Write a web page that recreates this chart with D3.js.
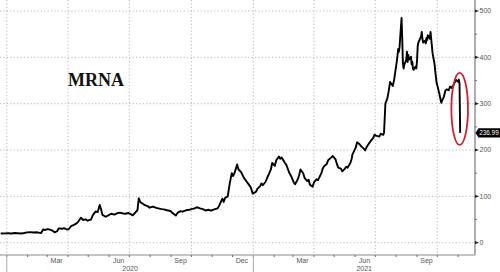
<!DOCTYPE html>
<html><head><meta charset="utf-8">
<script src="https://cdn.jsdelivr.net/npm/d3@7"></script>
<style>body{margin:0;background:#fff}svg{display:block}</style>
</head><body><svg id="c" width="500" height="272"></svg>
<script>
const dates = ["2019-12-23","2019-12-30","2020-01-03","2020-01-08","2020-01-13","2020-01-17","2020-01-22","2020-01-27","2020-01-31","2020-02-05","2020-02-10","2020-02-14","2020-02-19","2020-02-21","2020-02-24","2020-02-27","2020-03-02","2020-03-05","2020-03-09","2020-03-12","2020-03-16","2020-03-18","2020-03-23","2020-03-26","2020-03-30","2020-04-02","2020-04-06","2020-04-09","2020-04-13","2020-04-16","2020-04-20","2020-04-23","2020-04-27","2020-04-30","2020-05-05","2020-05-08","2020-05-12","2020-05-15","2020-05-18","2020-05-20","2020-05-22","2020-05-27","2020-06-01","2020-06-04","2020-06-09","2020-06-12","2020-06-17","2020-06-22","2020-06-25","2020-06-30","2020-07-06","2020-07-09","2020-07-13","2020-07-15","2020-07-17","2020-07-21","2020-07-24","2020-07-28","2020-07-31","2020-08-05","2020-08-10","2020-08-13","2020-08-18","2020-08-21","2020-08-26","2020-08-31","2020-09-03","2020-09-08","2020-09-11","2020-09-15","2020-09-18","2020-09-23","2020-09-28","2020-10-01","2020-10-06","2020-10-09","2020-10-14","2020-10-19","2020-10-22","2020-10-27","2020-10-30","2020-11-04","2020-11-09","2020-11-12","2020-11-16","2020-11-18","2020-11-20","2020-11-24","2020-11-27","2020-11-30","2020-12-02","2020-12-04","2020-12-08","2020-12-10","2020-12-14","2020-12-16","2020-12-18","2020-12-22","2020-12-24","2020-12-28","2020-12-31","2021-01-05","2021-01-07","2021-01-11","2021-01-13","2021-01-15","2021-01-19","2021-01-21","2021-01-25","2021-01-27","2021-01-29","2021-02-02","2021-02-04","2021-02-08","2021-02-10","2021-02-12","2021-02-17","2021-02-19","2021-02-23","2021-02-26","2021-03-02","2021-03-04","2021-03-08","2021-03-10","2021-03-12","2021-03-16","2021-03-18","2021-03-22","2021-03-24","2021-03-26","2021-03-30","2021-04-01","2021-04-05","2021-04-07","2021-04-12","2021-04-14","2021-04-16","2021-04-20","2021-04-22","2021-04-26","2021-04-29","2021-05-03","2021-05-05","2021-05-07","2021-05-11","2021-05-13","2021-05-17","2021-05-19","2021-05-21","2021-05-25","2021-05-27","2021-05-28","2021-06-02","2021-06-04","2021-06-08","2021-06-10","2021-06-14","2021-06-16","2021-06-18","2021-06-22","2021-06-24","2021-06-28","2021-06-30","2021-07-02","2021-07-07","2021-07-09","2021-07-13","2021-07-14","2021-07-16","2021-07-19","2021-07-21","2021-07-23","2021-07-27","2021-07-29","2021-08-02","2021-08-04","2021-08-05","2021-08-06","2021-08-09","2021-08-10","2021-08-11","2021-08-12","2021-08-13","2021-08-16","2021-08-17","2021-08-18","2021-08-19","2021-08-20","2021-08-23","2021-08-24","2021-08-25","2021-08-26","2021-08-27","2021-08-30","2021-08-31","2021-09-01","2021-09-02","2021-09-03","2021-09-07","2021-09-08","2021-09-09","2021-09-10","2021-09-13","2021-09-14","2021-09-15","2021-09-16","2021-09-17","2021-09-20","2021-09-21","2021-09-22","2021-09-23","2021-09-24","2021-09-27","2021-09-28","2021-09-30","2021-10-01","2021-10-04","2021-10-06","2021-10-07","2021-10-08","2021-10-11","2021-10-13","2021-10-15","2021-10-18","2021-10-20","2021-10-22","2021-10-25","2021-10-27","2021-10-29","2021-11-01","2021-11-02","2021-11-03","2021-11-04"];
const values = [20.0,20.2,20.5,20.0,20.8,20.3,19.8,21.0,22.2,22.8,22.0,22.5,21.2,21.0,28.5,27.5,29.5,28.0,26.0,22.5,25.0,31.0,30.0,31.5,28.5,29.0,36.5,38.0,41.0,45.0,54.0,49.0,50.5,47.5,50.0,60.0,67.5,66.0,81.5,72.0,60.0,56.0,60.0,62.5,60.5,63.0,65.0,63.0,62.5,64.0,59.0,64.0,70.0,96.0,88.0,84.0,81.0,79.0,75.5,78.0,75.0,74.0,72.5,72.0,70.0,68.5,64.0,58.5,65.0,68.0,67.0,70.0,71.0,72.5,74.0,76.5,74.0,72.0,69.5,71.0,69.0,72.0,74.0,82.0,95.0,88.0,96.5,100.0,128.0,150.0,144.0,150.0,169.0,158.0,152.0,146.0,140.0,132.0,128.0,120.0,106.0,110.0,116.0,122.0,128.0,124.0,131.0,138.0,151.0,158.0,172.0,166.0,178.0,186.0,181.0,184.0,172.0,168.0,152.0,144.0,130.0,126.0,137.0,146.0,158.0,150.0,140.0,133.0,136.0,125.0,121.0,130.0,137.0,135.0,150.0,160.0,165.0,170.0,178.0,183.0,187.0,180.0,170.0,162.0,160.0,154.0,160.0,164.0,162.0,172.0,181.0,190.0,205.0,217.0,212.0,208.0,203.0,199.0,206.0,215.0,219.0,226.0,233.0,231.0,229.0,235.0,233.0,238.0,300.0,312.0,328.0,347.0,338.0,352.0,392.0,418.0,412.0,422.0,485.0,440.0,387.0,376.0,384.0,395.0,412.0,390.0,405.0,395.0,401.0,385.0,390.0,375.0,373.0,380.0,376.0,395.0,425.0,432.0,445.0,455.0,440.0,432.0,436.0,430.0,442.0,437.0,448.0,440.0,455.0,440.0,425.0,409.0,385.0,370.0,345.0,340.0,322.0,308.0,302.0,306.0,316.0,328.0,331.0,329.0,337.0,334.0,340.0,346.0,351.0,347.0,352.0,345.0,236.99];
const yTicks = [0, 100, 200, 300, 400, 500];
const yMinorTicks = [50, 150, 250, 350, 450];
const monthLabelDates = ["2020-03-15","2020-06-15","2020-09-15","2020-12-15","2021-03-15","2021-06-15","2021-09-15"];
const yearLabels = ["2020", "2021"];
const tickerLabel = "MRNA";

const svg = d3.select("#c");
const W = 500, H = 272;
const plotRight = 475, plotBottom = 255;
const parse = d3.utcParse("%Y-%m-%d");
const data = dates.map((d, i) => ({date: parse(d), value: values[i]}));

const x = d3.scaleUtc().domain([parse("2019-12-22"), parse("2021-11-26")]).range([0, plotRight]);
const y = d3.scaleLinear().domain([0, 500]).range([242.7, 11]);

const gridColor = "#b8b8b8";
svg.append("g").selectAll("line").data(yTicks).join("line")
  .attr("x1", 0).attr("x2", plotRight)
  .attr("y1", d => y(d)).attr("y2", d => y(d))
  .attr("stroke", gridColor).attr("stroke-width", 1).attr("stroke-dasharray", "1.2,2.2");
const quarters = d3.utcMonth.every(3).range(parse("2020-01-01"), x.domain()[1]);
svg.append("g").selectAll("line").data(quarters).join("line")
  .attr("x1", d => x(d)).attr("x2", d => x(d))
  .attr("y1", 0).attr("y2", plotBottom)
  .attr("stroke", gridColor).attr("stroke-width", 1).attr("stroke-dasharray", "1.2,2.2");

svg.append("line").attr("x1", 0).attr("x2", plotRight).attr("y1", plotBottom).attr("y2", plotBottom)
  .attr("stroke", "#8a8a8a").attr("stroke-width", 1);
svg.append("line").attr("x1", plotRight).attr("x2", plotRight).attr("y1", 0).attr("y2", plotBottom)
  .attr("stroke", "#9a9a9a").attr("stroke-width", 1.6);

const months = d3.utcMonth.range(parse("2020-01-01"), x.domain()[1]);
svg.append("g").selectAll("line").data(months).join("line")
  .attr("x1", d => x(d)).attr("x2", d => x(d))
  .attr("y1", plotBottom).attr("y2", plotBottom + 2)
  .attr("stroke", "#666").attr("stroke-width", 1);

const fmt = d3.utcFormat("%b");
svg.append("g").selectAll("text").data(monthLabelDates.map(parse)).join("text")
  .attr("x", d => x(d)).attr("y", 262.5)
  .attr("text-anchor", "middle")
  .attr("font-family", "Liberation Sans, Arial, sans-serif").attr("font-size", 7)
  .attr("fill", "#555").text(d => fmt(d));

const yearStarts = yearLabels.map(t => parse(t + "-01-01"));
svg.append("g").selectAll("line").data(yearStarts).join("line")
  .attr("x1", d => x(d)).attr("x2", d => x(d))
  .attr("y1", plotBottom).attr("y2", H)
  .attr("stroke", "#aaa").attr("stroke-width", 1);
svg.append("g").selectAll("text").data(yearLabels).join("text")
  .attr("x", (t, i) => {
    const a = x(yearStarts[i]);
    const b = i + 1 < yearStarts.length ? x(yearStarts[i + 1]) : plotRight;
    return (a + b) / 2;
  })
  .attr("y", 270.5).attr("text-anchor", "middle")
  .attr("font-family", "Liberation Sans, Arial, sans-serif").attr("font-size", 7)
  .attr("fill", "#555").text(t => t);

svg.append("g").selectAll("path").data(yTicks).join("path")
  .attr("d", d => `M${plotRight},${y(d) - 1.6}L${plotRight + 4},${y(d)}L${plotRight},${y(d) + 1.6}Z`)
  .attr("fill", "#222");
svg.append("g").selectAll("line").data(yMinorTicks).join("line")
  .attr("x1", plotRight).attr("x2", plotRight + 2)
  .attr("y1", d => y(d)).attr("y2", d => y(d))
  .attr("stroke", "#777").attr("stroke-width", 1);
svg.append("g").selectAll("text").data(yTicks).join("text")
  .attr("x", plotRight + 4.5).attr("y", d => y(d)).attr("dy", "0.35em")
  .attr("font-family", "Liberation Sans, Arial, sans-serif").attr("font-size", 7)
  .attr("fill", "#555").text(d => d);

svg.append("clipPath").attr("id", "clip").append("rect")
  .attr("x", 0).attr("y", 0).attr("width", plotRight).attr("height", plotBottom);
const line = d3.line().x(d => x(d.date)).y(d => y(d.value));
svg.append("path").datum(data)
  .attr("clip-path", "url(#clip)")
  .attr("d", line).attr("fill", "none")
  .attr("stroke", "#000").attr("stroke-width", 1.9).attr("stroke-linejoin", "round");

svg.append("text").attr("x", 68).attr("y", 86)
  .attr("font-family", "Liberation Serif, Times New Roman, serif").attr("font-weight", "bold")
  .attr("font-size", 18).attr("fill", "#111").text(tickerLabel);

const last = data[data.length - 1], prev = data[data.length - 2];
const yTop = y(prev.value), yBot = y(last.value);
svg.append("ellipse")
  .attr("cx", x(last.date) - 0.5).attr("cy", (yTop + yBot) / 2 + 1)
  .attr("rx", 8.3).attr("ry", (yBot - yTop) / 2 + 11)
  .attr("fill", "none").attr("stroke", "#d0202c").attr("stroke-width", 1.8);

const ly = y(last.value);
svg.append("path")
  .attr("d", `M${plotRight + 0.5},${ly}L${plotRight + 3.5},${ly - 4.6}L${W},${ly - 4.6}L${W},${ly + 4.6}L${plotRight + 3.5},${ly + 4.6}Z`)
  .attr("fill", "#000");
svg.append("text").attr("x", plotRight + 4.2).attr("y", ly).attr("dy", "0.35em")
  .attr("font-family", "Liberation Sans, Arial, sans-serif").attr("font-size", 6.6)
  .attr("textLength", 19.5).attr("lengthAdjust", "spacingAndGlyphs")
  .attr("fill", "#fff").text(last.value.toFixed(2));
</script>
</body></html>
